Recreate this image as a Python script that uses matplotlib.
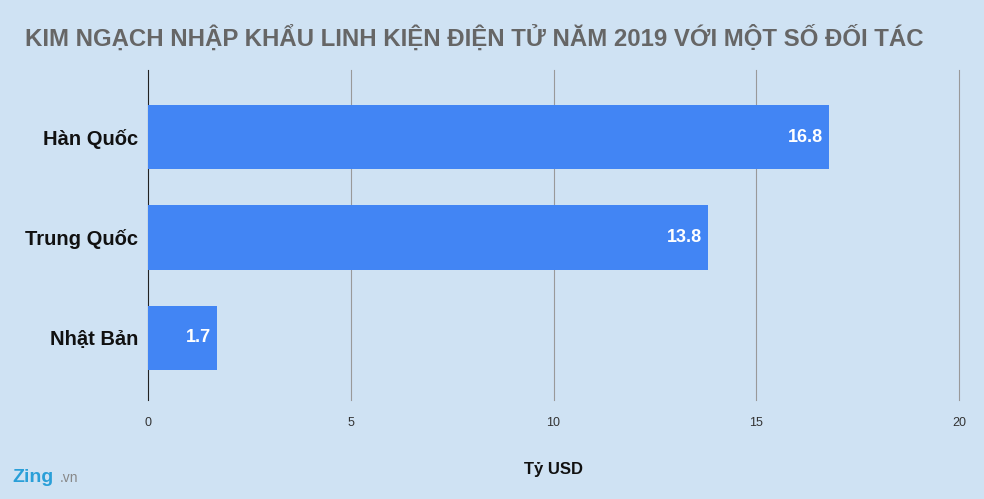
import matplotlib
matplotlib.use("Agg")
import matplotlib.pyplot as plt
plt.rcParams["font.family"] = "Liberation Sans"

categories = ["Hàn Quốc", "Trung Quốc", "Nhật Bản"]
values = [16.8, 13.8, 1.7]
xticks = [0, 5, 10, 15, 20]

bg = "#cfe2f3"
fig = plt.figure(figsize=(9.84, 4.99), dpi=100, facecolor=bg)
ax = fig.add_axes([148/984, 1-400/499, (959-148)/984, 330/499], facecolor=bg)
ypos = range(len(categories))
ax.barh(ypos, values, height=0.64, color="#4285f4", zorder=3)
for y, v in zip(ypos, values):
    ax.text(v - 0.15, y, f"{v}", ha="right", va="center", color="white",
            fontsize=13, fontweight="bold", zorder=4)
ax.set_xlim(0, 20)
ax.set_ylim(2.617, -0.667)
ax.set_yticks(list(ypos))
ax.set_yticklabels(categories, fontsize=14.5, fontweight="bold", color="#111")
ax.set_xticks(xticks)
ax.set_xticklabels([str(t) for t in xticks], fontsize=9, color="#333")
ax.tick_params(axis="y", length=0, pad=7)
ax.tick_params(axis="x", length=0, pad=12)
for t in xticks[1:]:
    ax.axvline(t, color="#999", lw=0.8, zorder=0, clip_on=False)
for s in ["top", "right", "bottom"]:
    ax.spines[s].set_visible(False)
ax.spines["left"].set_color("#222")
ax.set_xlabel("Tỷ USD", fontsize=12, fontweight="bold", color="#111", labelpad=24)
fig.text(25/984, 1-38/499, "KIM NGẠCH NHẬP KHẨU LINH KIỆN ĐIỆN TỬ NĂM 2019 VỚI MỘT SỐ ĐỐI TÁC",
         fontsize=17.3, fontweight="bold", color="#666", va="center", ha="left")
fig.text(12/984, 1-478/499, "Zing", fontsize=14, fontweight="bold", color="#2a9fd8", va="center")
fig.text(60/984, 1-478/499, ".vn", fontsize=10, color="#888", va="center")
fig.savefig("out.png", dpi=100, facecolor=bg)
